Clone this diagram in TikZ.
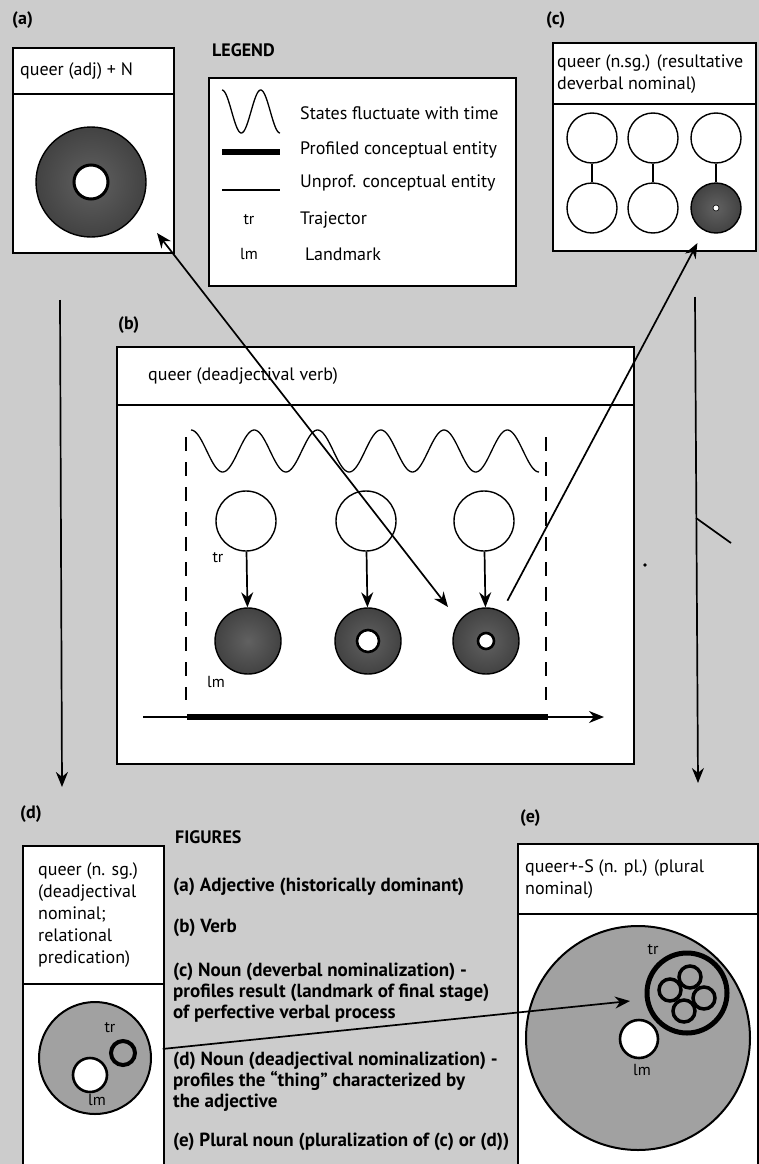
\documentclass[tikz,border=0pt]{standalone}
\usepackage{fontspec}
\setmainfont{PT Sans}
\usetikzlibrary{arrows.meta}

\definecolor{paper}{gray}{0.8}
\definecolor{screen}{gray}{0.63}
\pgfdeclareradialshading{ringshade}{\pgfpoint{0bp}{0bp}}{%
  color(0bp)=(black!62); color(25bp)=(black!74); color(50bp)=(black!95); color(100bp)=(black!95)}

\tikzset{
  every picture/.style={>={Stealth[length=15pt,width=12pt]}},
  panel/.style={draw, fill=white, line width=2.3pt, anchor=north west, inner sep=0pt},
  heading/.style={anchor=west, align=left, inner sep=0pt, font=\fontsize{18}{22}\selectfont},
  plabel/.style={anchor=west, inner sep=0pt, font=\fontsize{18}{20}\selectfont\bfseries},
  txt/.style={anchor=west, align=left, inner sep=0pt, font=\fontsize{18}{20}\selectfont},
  figtxt/.style={anchor=west, align=left, inner sep=0pt, font=\fontsize{19}{21}\selectfont\bfseries},
  role/.style={inner sep=0pt, font=\fontsize{16}{18}\selectfont},
  blank/.style={circle, draw, fill=white, line width=1.4pt, inner sep=0pt},
  donut/.style={circle, draw, line width=1.4pt, shade, shading=ringshade, inner sep=0pt},
  hole/.style={circle, draw, fill=white, line width=2.6pt, inner sep=0pt},
  disc/.style={circle, draw, fill=screen, line width=2pt, inner sep=0pt},
  link/.style={line width=1.7pt},
}

\begin{document}
\begin{tikzpicture}[x=1pt, y=-1pt]
\useasboundingbox (0,0) rectangle (759,1164);
\fill[paper] (0,0) rectangle (759,1164);

% (a) adjective
\node[plabel] (la) at (12,20) {(a)};
\node[panel, minimum width=161pt, minimum height=46pt] (ahead) at (12,47) {};
\node[panel, minimum width=161pt, minimum height=159pt] (abody) at (12,93) {};
\node[heading] (atitle) at ([xshift=8pt]ahead.west) {queer (adj) + N};
\node[donut, minimum size=110pt] (aring) at (91,182) {};
\node[hole, minimum size=34pt, line width=3pt] (ahole) at (aring) {};

% legend
\node[plabel] (llegend) at (212,50) {LEGEND};
\node[panel, minimum width=307pt, minimum height=208pt] (legend) at (208,77) {};
\draw[line width=1.3pt] plot[domain=0:540, samples=60] ({222+\x/540*58}, {111.5-21.5*cos(\x)});
\draw[line width=6pt] (222,152) -- (280,152);
\draw[line width=1.3pt] (222,190) -- (280,190);
\node[role] (ltr) at (249,220) {tr};
\node[role] (llm) at (249,254) {lm};
\node[txt] (kfluct) at (300,113) {States fluctuate with time};
\node[txt] (kprof) at (300,150) {Profiled conceptual entity};
\node[txt] (kunprof) at (300,183) {Unprof. conceptual entity};
\node[txt] (ktr) at (300,220) {Trajector};
\node[txt] (klm) at (305,254) {Landmark};

% (c) resultative nominal
\node[plabel] (lc) at (546,20) {(c)};
\node[panel, minimum width=203pt, minimum height=61pt] (chead) at (552,42) {};
\node[panel, minimum width=203pt, minimum height=147pt] (cbody) at (552,103) {};
\node[heading] (ctitle) at ([xshift=5pt]chead.west) {queer (n.sg.) (resultative\\deverbal nominal)};
\begin{scope}[every node/.style={blank, minimum size=50pt}]
  \node (c11) at (592,138) {};
  \node (c12) at (653,138) {};
  \node (c13) at (716,138) {};
  \node (c21) at (592,208) {};
  \node (c22) at (653,208) {};
\end{scope}
\node[donut, minimum size=50pt] (c23) at (716,208) {};
\node[hole, minimum size=6pt, line width=0.6pt] (chole) at (c23) {};
\draw[link] (c11) -- (c21);
\draw[link] (c12) -- (c22);
\draw[link] (c13) -- (c23);

% (b) verb
\node[plabel] (lb) at (118,325) {(b)};
\node[panel, minimum width=517pt, minimum height=58pt] (bhead) at (116,346) {};
\node[panel, minimum width=517pt, minimum height=359pt] (bbody) at (116,404) {};
\node[heading] (btitle) at ([xshift=32pt]bhead.west) {queer (deadjectival verb)};
\draw[line width=1.8pt, dash pattern=on 14pt off 11pt] (186,437) -- (186,700);
\draw[line width=1.8pt, dash pattern=on 14pt off 11pt] (546,437) -- (546,700);
\draw[line width=1.3pt] plot[domain=0:1980, samples=240] ({191+\x/1980*348}, {451-21*cos(\x)});
\begin{scope}[every node/.style={blank, minimum size=60pt}]
  \node (b1) at (246,521) {};
  \node (b2) at (366,521) {};
  \node (b3) at (484,521) {};
\end{scope}
\begin{scope}[every node/.style={donut, minimum size=66pt}]
  \node (bd1) at (248,641) {};
  \node (bd2) at (368,641) {};
  \node (bd3) at (486,641) {};
\end{scope}
\node[hole, minimum size=22pt] (bh2) at (bd2) {};
\node[hole, minimum size=16pt] (bh3) at (bd3) {};
\node[role] (btr) at (218,558) {tr};
\node[role] (blm) at (216,682) {lm};
\foreach \i in {1,2,3} \draw[->, link] (b\i) -- (bd\i);
\coordinate (t0) at (143,717);
\coordinate (t1) at (604,717);
\draw[->, link] (t0) -- (t1);
\draw[line width=6pt] (187,717) -- (548,717);

% long arrows down
\coordinate (l0) at (60,300);
\coordinate (l1) at (62,787);
\draw[->, link] (l0) -- (l1);
\coordinate (r0) at (695,297);
\coordinate (r1) at (698,783);
\draw[->, link] (r0) -- (r1);
\draw[link] (696,518) -- (731,543);
\fill (645,565) circle[radius=1.8pt];

% (d) deadjectival nominal
\node[plabel] (ld) at (20,814) {(d)};
\node[panel, minimum width=141pt, minimum height=138pt] (dhead) at (22,845) {};
\node[panel, minimum width=141pt, minimum height=181pt] (dbody) at (22,983) {};
\node[heading] (dtitle) at ([xshift=16pt]dhead.west) {queer (n. sg.)\\(deadjectival\\nominal;\\relational\\predication)};
\node[disc, minimum size=112pt] (dbig) at (95,1058) {};
\node[hole, minimum size=34pt] (dhole) at (90,1075) {};
\node[disc, minimum size=24pt, line width=4pt] (dtr) at (123,1053) {};
\node[role] (dtrl) at (110,1028) {tr};
\node[role] (dlml) at (97,1100) {lm};

% figures list
\node[plabel] (lfig) at (175,837) {FIGURES};
\node[figtxt] (fa) at (173,887) {(a) Adjective (historically dominant)};
\node[figtxt] (fb) at (173,928) {(b) Verb};
\node[figtxt] (fc) at (173,993) {(c) Noun (deverbal nominalization) -\\profiles result (landmark of final stage)\\of perfective verbal process};
\node[figtxt] (fd) at (173,1082) {(d) Noun (deadjectival nominalization) -\\profiles the “thing” characterized by\\the adjective};
\node[figtxt] (fe) at (173,1142) {(e) Plural noun (pluralization of (c) or (d))};

% (e) plural nominal
\node[plabel] (le) at (520,818) {(e)};
\node[panel, minimum width=240pt, minimum height=70pt] (ehead) at (517,843) {};
\node[panel, minimum width=240pt, minimum height=251pt] (ebody) at (517,913) {};
\node[heading] (etitle) at ([xshift=8pt]ehead.west) {queer+-S (n. pl.) (plural\\nominal)};
\node[disc, minimum size=224pt] (ebig) at (638,1038) {};
\node[hole, minimum size=38pt] (ehole) at (639,1039) {};
\node[disc, minimum size=80pt, line width=5pt] (etr) at (687,993) {};
\foreach \p [count=\k] in {(670,990),(690,977),(704,998),(684,1011)}
  \node[disc, minimum size=22pt, line width=3.5pt] (eset\k) at \p {};
\node[role] (etrl) at (653,950) {tr};
\node[role] (elml) at (642,1070) {lm};

% links between the figures
\coordinate (aend) at (157,233);
\coordinate (bend) at (448,607);
\draw[<->, link] (aend) -- (bend);
\draw[->, link, shorten <=12pt, shorten >=14pt] (bd3) -- (c23);
\coordinate (ehit) at (630,1001);
\draw[->, link, shorten <=26pt] (dtr) -- (ehit);
\end{tikzpicture}
\end{document}
